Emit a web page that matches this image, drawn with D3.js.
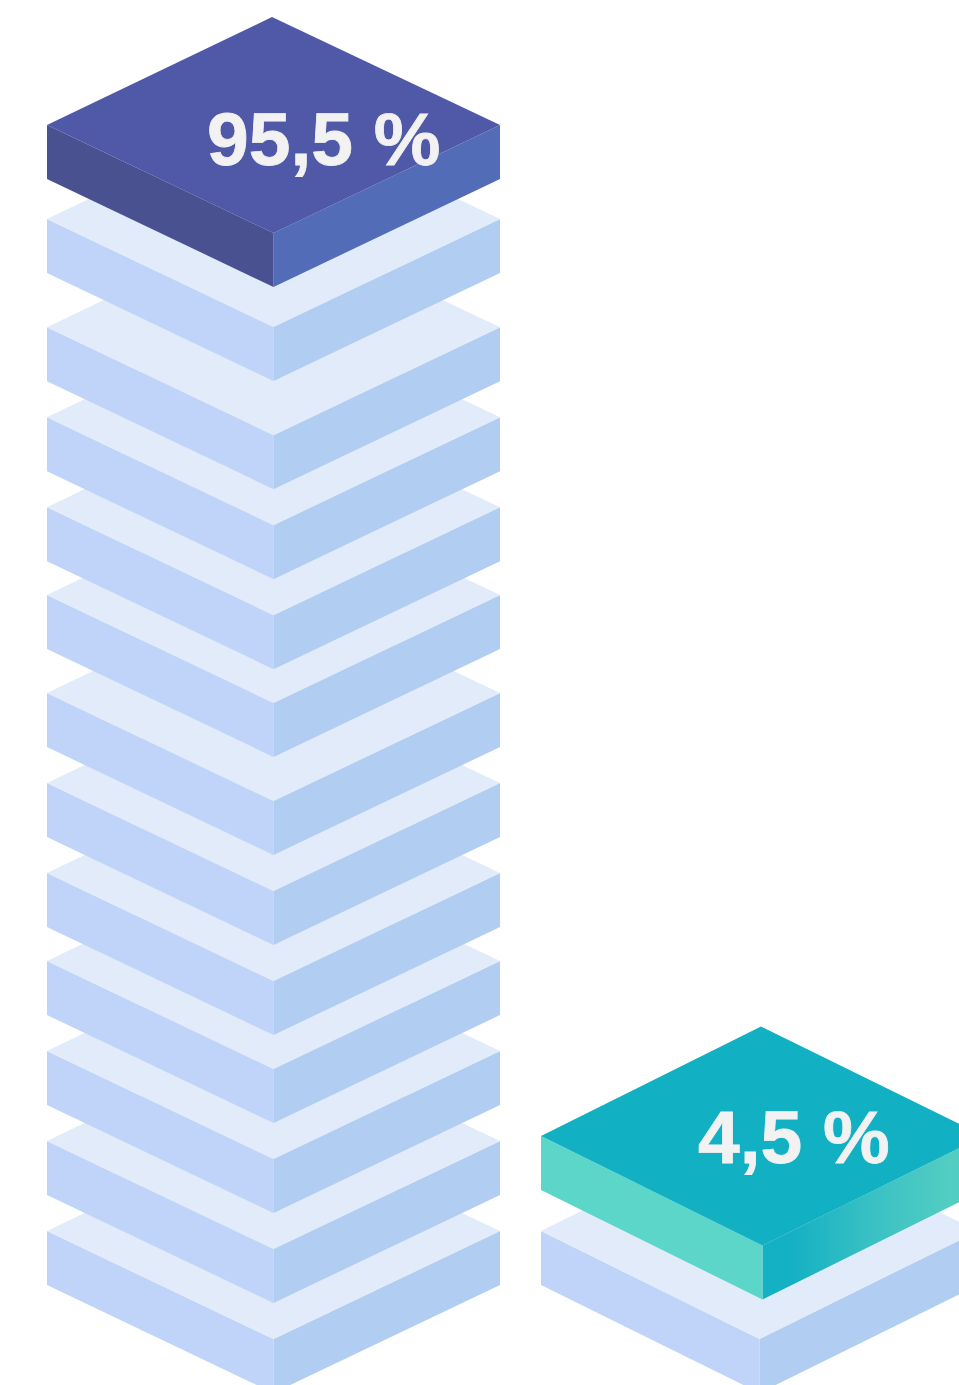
<!DOCTYPE html>
<html>
<head>
<meta charset="utf-8">
<script src="https://cdn.jsdelivr.net/npm/d3@7/dist/d3.min.js"></script>
<style>
  html, body { margin: 0; padding: 0; background: #fff; overflow: hidden; }
  svg { display: block; }
  text { font-family: "Liberation Sans", Arial, sans-serif; font-weight: 700; }
</style>
</head>
<body>
<svg id="chart" width="959" height="1385"></svg>
<script>
// Two shares, each shown as a stack of isometric slabs capped by a coloured one.
const categories = ["majority", "minority"];
const shares = [95.5, 4.5];
const shareLabels = ["95,5 %", "4,5 %"];
// Levels of the pale slabs below each cap, on the same share axis as the caps.
const majorityLevels = [-4.05, 4.05, 12.15, 20.25, 28.17, 36.27, 44.37, 53.2, 61.1, 69.2, 77.3, 87.04];
const minorityLevels = [-4.05];
const stackLevels = [majorityLevels, minorityLevels];

const slabDepth = 54;

const svg = d3.select("#chart");

const y = d3.scaleLinear().domain([4.5, 95.5]).range([1136, 125]);
const x = d3.scaleBand().domain(categories).range([47, 994]).paddingInner(41 / 494).paddingOuter(0);

// Slab footprints per column: pale slabs and caps differ slightly in the second one.
const paleWidth = d3.scaleOrdinal().domain(categories).range([453, 437]);
const capWidth = d3.scaleOrdinal().domain(categories).range([453, 443]);
const paleHalfHeight = d3.scaleOrdinal().domain(categories).range([108, 108]);
const capHalfHeight = d3.scaleOrdinal().domain(categories).range([108, 109.5]);
const labelInset = d3.scaleOrdinal().domain(categories).range([160, 157]);
const labelDrop = d3.scaleOrdinal().domain(categories).range([40, 27]);

const palette = {
  pale: { top: "#e1ebfa", left: "#c0d4fa", right: "#b2cdf2" },
  majority: { top: "#5058a8", left: "#4a5190", right: "#536cb8" },
  minority: { top: "#12b0c3", left: "#5cd6c8", right: "url(#tealSide)" }
};

// The teal right-hand face brightens towards its outer edge.
const grad = svg.append("defs").append("linearGradient")
  .attr("id", "tealSide")
  .attr("gradientUnits", "userSpaceOnUse")
  .attr("x1", 790).attr("x2", 950).attr("y1", 0).attr("y2", 0);
grad.append("stop").attr("offset", 0).attr("stop-color", "#14b0c3");
grad.append("stop").attr("offset", 0.55).attr("stop-color", "#3cc2c4");
grad.append("stop").attr("offset", 1).attr("stop-color", "#52cdc2");

const line = d3.line();

function drawSlab(g, category, level, colors, w, halfHeight) {
  const left = x(category), right = left + w, mid = left + w / 2;
  const edge = y(level);
  const front = edge + halfHeight;
  const faces = {
    top: [[left, edge], [mid - 1.5, edge - halfHeight], [right, edge], [mid, front]],
    left: [[left, edge], [mid, front], [mid, front + slabDepth], [left, edge + slabDepth]],
    right: [[mid, front], [right, edge], [right, edge + slabDepth], [mid, front + slabDepth]]
  };
  // The right face goes first and runs under the left one, which closes the seam between them.
  g.append("path").attr("d", line(faces.right) + "Z").attr("fill", colors.right);
  g.append("path").attr("d", line(faces.left) + "Z").attr("fill", colors.left);
  g.append("path").attr("d", line(faces.top) + "Z").attr("fill", colors.top);
}

categories.forEach((category, i) => {
  const g = svg.append("g").attr("class", "stack-" + category);
  // Lowest slab first so each higher one overlaps the slab beneath it.
  stackLevels[i].forEach(level =>
    drawSlab(g, category, level, palette.pale, paleWidth(category), paleHalfHeight(category)));
  drawSlab(g, category, shares[i], palette[category], capWidth(category), capHalfHeight(category));
  g.append("text")
    .attr("x", x(category) + labelInset(category))
    .attr("y", y(shares[i]) + labelDrop(category))
    .attr("font-size", 75)
    .attr("fill", "#f2f2f2")
    .attr("stroke", "#f2f2f2")
    .attr("stroke-width", 0.8)
    .text(shareLabels[i]);
});
</script>
</body>
</html>
